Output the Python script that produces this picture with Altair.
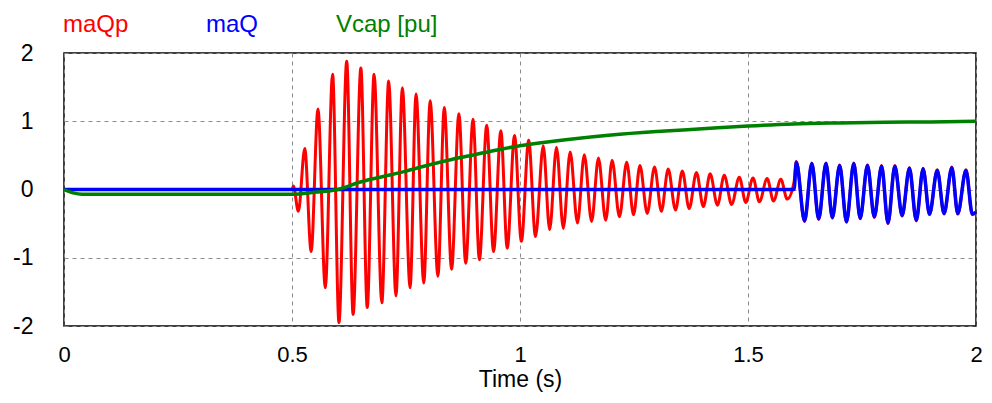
import altair as alt
import pandas as pd

# ---- data ----
# maQp (red): zero until 0.5 s, then a decaying oscillation (peaks/troughs)
red_t = [0.0, 0.5, 0.503, 0.514, 0.528, 0.542, 0.557, 0.573, 0.589, 0.603,
         0.620, 0.634, 0.651, 0.665, 0.680, 0.697, 0.712, 0.728, 0.742, 0.759,
         0.772, 0.789, 0.803, 0.820, 0.834, 0.850, 0.866, 0.881, 0.897, 0.911,
         0.927, 0.942, 0.958, 0.972, 0.988, 1.003, 1.019, 1.034, 1.051, 1.065,
         1.080, 1.095, 1.110, 1.126, 1.141, 1.157, 1.172, 1.188, 1.202, 1.218,
         1.234, 1.249, 1.263, 1.279, 1.295, 1.310, 1.325, 1.341, 1.356, 1.371,
         1.387, 1.402, 1.417, 1.433, 1.448, 1.464, 1.481, 1.495, 1.511, 1.525,
         1.542, 1.556, 1.572, 1.586, 1.601]
red_v = [0.0, 0.0, 0.05, -0.32, 0.60, -0.91, 1.18, -1.44, 1.69, -1.95,
         1.88, -1.83, 1.78, -1.73, 1.69, -1.66, 1.59, -1.56, 1.49, -1.44,
         1.40, -1.37, 1.30, -1.27, 1.20, -1.17, 1.11, -1.08, 1.03, -1.03,
         0.94, -0.91, 0.86, -0.86, 0.79, -0.76, 0.72, -0.69, 0.64, -0.59,
         0.62, -0.57, 0.55, -0.49, 0.51, -0.47, 0.46, -0.45, 0.43, -0.40,
         0.40, -0.37, 0.35, -0.35, 0.33, -0.32, 0.30, -0.30, 0.27, -0.28,
         0.25, -0.25, 0.23, -0.23, 0.21, -0.22, 0.18, -0.19, 0.17, -0.18,
         0.16, -0.17, 0.15, -0.14, 0.11]

# maQ (blue): zero until ~1.6 s, then oscillates (red follows it)
blue_t = [0.0, 1.601, 1.606, 1.624, 1.640, 1.655, 1.671, 1.685, 1.701, 1.716,
          1.732, 1.746, 1.762, 1.777, 1.793, 1.807, 1.822, 1.838, 1.854, 1.869,
          1.884, 1.898, 1.915, 1.930, 1.947, 1.960, 1.978, 1.992, 2.0]
blue_v = [0.0, 0.0, 0.40, -0.46, 0.38, -0.43, 0.38, -0.41, 0.35, -0.47,
          0.38, -0.42, 0.35, -0.40, 0.34, -0.49, 0.34, -0.38, 0.31, -0.45,
          0.30, -0.36, 0.28, -0.35, 0.32, -0.35, 0.28, -0.36, -0.33]
red_tail_t = blue_t[2:]
red_tail_v = [0.41, -0.47, 0.39, -0.44, 0.39, -0.42, 0.36, -0.48,
              0.39, -0.43, 0.36, -0.41, 0.35, -0.50, 0.35, -0.39, 0.32, -0.46,
              0.31, -0.37, 0.29, -0.36, 0.33, -0.36, 0.29, -0.37, -0.34]

# Vcap [pu] (green)
green_t = [0.0, 0.02, 0.04, 0.5, 0.55, 0.6, 0.65, 0.7, 0.75, 0.8, 0.85, 0.9,
           0.95, 1.0, 1.1, 1.2, 1.3, 1.4, 1.5, 1.6, 1.7, 1.8, 1.9, 2.0]
green_v = [0.0, -0.05, -0.07, -0.07, -0.04, 0.0, 0.11, 0.19, 0.27, 0.36, 0.44,
           0.51, 0.58, 0.64, 0.73, 0.80, 0.85, 0.89, 0.93, 0.96, 0.975, 0.985,
           0.99, 1.0]

series_names = ["maQp", "maQ", "Vcap [pu]"]
series_colors = ["#ff0000", "#0000ff", "#008000"]
x_ticks = [0, 0.5, 1, 1.5, 2]
y_ticks = [-2, -1, 0, 1, 2]

red_df = pd.DataFrame({"t": red_t + red_tail_t, "v": red_v + red_tail_v})
blue_df = pd.DataFrame({"t": blue_t, "v": blue_v})
green_df = pd.DataFrame({"t": green_t, "v": green_v})

FONT = "Liberation Sans"

x_enc = alt.X("t:Q", scale=alt.Scale(domain=[0, 2], nice=False, zero=False),
              axis=alt.Axis(values=x_ticks, labelExpr="toString(datum.value)",
                            title="Time (s)", grid=True, ticks=False,
                            domain=False, labelPadding=18, titlePadding=3,
                            labelFlush=False, labelFontSize=22))
y_enc = alt.Y("v:Q", scale=alt.Scale(domain=[-2, 2], nice=False),
              axis=alt.Axis(values=y_ticks, labelExpr="toString(datum.value)",
                            title=None, grid=True, ticks=False,
                            domain=False, labelPadding=31))

def line(df, color, width):
    return alt.Chart(df).mark_line(color=color, strokeWidth=width,
                                   interpolate="monotone").encode(x=x_enc, y=y_enc)

red = line(red_df, series_colors[0], 3)
blue = line(blue_df, series_colors[1], 3.5)
green = line(green_df, series_colors[2], 3.5)

legend_x = [-1, 142, 272]
labels = []
for name, col, lx in zip(series_names, series_colors, legend_x):
    labels.append(
        alt.Chart(pd.DataFrame({"name": [name]})).mark_text(
            align="left", baseline="alphabetic", fontSize=24, font=FONT,
            color=col
        ).encode(x=alt.value(lx), y=alt.value(-21), text="name:N")
    )

chart = alt.layer(red, blue, green, *labels).properties(
    width=912, height=273,
    autosize=alt.AutoSizeParams(type="none"),
    padding={"left": 56, "top": 45, "right": 8, "bottom": 72},
).configure_view(
    stroke="#000000", strokeWidth=1.5
).configure_axis(
    labelFont=FONT, titleFont=FONT, labelFontSize=23, titleFontSize=23,
    labelColor="#000000", titleColor="#000000", titleFontWeight="normal",
    gridColor="#8c8c8c", gridDash=[4, 4], gridWidth=1,
)

chart.save("out.html", embed_options={"renderer": "svg", "actions": False})
